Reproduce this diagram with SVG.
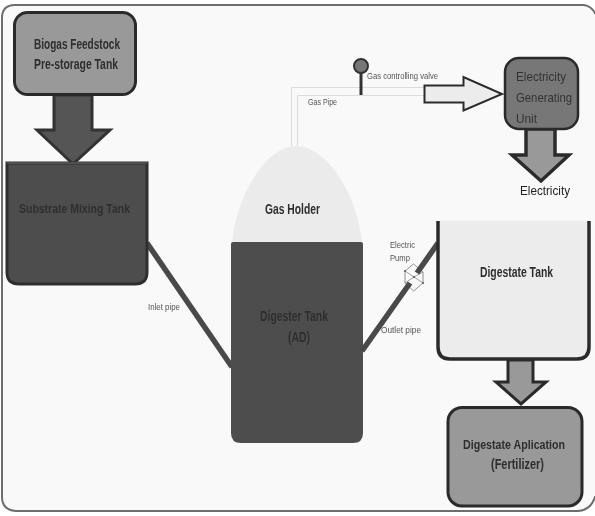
<svg xmlns="http://www.w3.org/2000/svg" width="595" height="516" viewBox="0 0 595 516">
<style>
.b{font-family:"Liberation Sans",Arial,sans-serif;font-weight:bold;font-size:14px;fill:#2e2e2e}
.r{font-family:"Liberation Sans",Arial,sans-serif;font-size:13px;fill:#333}
.s{font-family:"Liberation Sans",Arial,sans-serif;font-size:9.500px;fill:#555}
.pipe{fill:none;stroke:#4a4a4a;stroke-width:5.500}
.gas{fill:none;stroke:#dcdcdc;stroke-width:1}
.v{fill:#555}
</style>
<defs><filter id="soft" x="-2%" y="-2%" width="104%" height="104%"><feGaussianBlur stdDeviation="0.35"/></filter></defs>
<rect width="595" height="516" fill="#fff"/>
<g filter="url(#soft)">
<path id="frame" d="M2 497V18Q2 5 15 5H584Q591 6 595 13V497Q591 510 578 511H16Q2 510 2 497Z" fill="#f9f9f9" stroke="#6e6e6e" stroke-width="2"/>
<path d="M595 14V496" stroke="#f9f9f9" stroke-width="3"/>
<g id="connectors">
<path class="pipe" d="M147 243L232 367"/>
<path class="gas" d="M291.500 146V87.500H425M297.500 146V95.500H425"/>
<path d="M54 95H92V130H110L73 164L37 130H54Z" fill="#555" stroke="#333" stroke-width="3"/>
<path d="M424.500 85.500H463.500V77L502 94L463.500 110.500V102.500H424.500Z" fill="#ececec" stroke="#2c2c2c" stroke-width="2"/>
<path d="M526 129H555V155H569L541 181L512 155H526Z" fill="#999" stroke="#2c2c2c" stroke-width="3.500"/>
<path d="M508 360H533V382H546L521 404L496 382H508Z" fill="#999" stroke="#2c2c2c" stroke-width="3"/>
</g>
<g id="feedstock">
<rect x="14.500" y="12.500" width="121" height="82" rx="13" fill="#999" stroke="#2c2c2c" stroke-width="3"/>
<text class="b" x="34" y="49" textLength="86" lengthAdjust="spacingAndGlyphs">Biogas Feedstock</text>
<text class="b" x="34" y="69" textLength="84" lengthAdjust="spacingAndGlyphs">Pre-storage Tank</text>
</g>
<g id="mixing-tank">
<path d="M7 163H147V272Q147 284 135 284H19Q7 284 7 272Z" fill="#4e4e4e" stroke="#2f2f2f" stroke-width="3"/>
<path d="M7 163H147" stroke="#707070" stroke-width="1"/>
<text class="b" x="19" y="213" textLength="111" lengthAdjust="spacingAndGlyphs" style="font-size:13px">Substrate Mixing Tank</text>
</g>
<g id="gas-holder">
<path d="M232 242C238 190 268 146 296 146C325 146 356 190 362 242Z" fill="#ebebeb"/>
<text class="b" x="265" y="214" textLength="55" lengthAdjust="spacingAndGlyphs">Gas Holder</text>
</g>
<g id="digester">
<path d="M231 244Q231 242 233 242H361Q363 242 363 244V433Q363 443 353 443H241Q231 443 231 433Z" fill="#4e4e4e"/>
<text class="b" x="260" y="321" textLength="68" lengthAdjust="spacingAndGlyphs">Digester Tank</text>
<text class="b" x="288" y="342" textLength="22" lengthAdjust="spacingAndGlyphs">(AD)</text>
</g>
<g id="valve">
<path d="M361 70V95" stroke="#333" stroke-width="3"/>
<circle cx="361" cy="66" r="7" fill="#777" stroke="#333" stroke-width="2"/>
<text class="s" x="367" y="79" textLength="71" lengthAdjust="spacingAndGlyphs">Gas controlling valve</text>
</g>
<text class="s" x="308" y="105" textLength="29" lengthAdjust="spacingAndGlyphs">Gas Pipe</text>
<g id="generator">
<rect x="505" y="58" width="73" height="71" rx="14" fill="#777" stroke="#2c2c2c" stroke-width="2.500"/>
<text class="r" x="516" y="81" textLength="50" lengthAdjust="spacingAndGlyphs">Electricity</text>
<text class="r" x="516" y="102" textLength="56" lengthAdjust="spacingAndGlyphs">Generating</text>
<text class="r" x="516" y="123" textLength="21" lengthAdjust="spacingAndGlyphs">Unit</text>
</g>
<text class="r" x="520" y="195" textLength="50" lengthAdjust="spacingAndGlyphs" style="fill:#222">Electricity</text>
<g id="pump">
<path d="M413.500 264L423 272V283L413.500 291L405 283V271Z" fill="#f9f9f9" stroke="#777" stroke-width="0.800"/>
<path d="M405 271L414 277L423 272M405 283L414 277L423 283" fill="none" stroke="#777" stroke-width="0.700"/>
<path class="pipe" d="M362 351L410 283M417 273L438 243"/>
<circle class="v" cx="414" cy="277" r="1"/><circle class="v" cx="405" cy="271" r="1"/><circle class="v" cx="423" cy="283" r="1"/>
<text class="s" x="390" y="248" textLength="25" lengthAdjust="spacingAndGlyphs">Electric</text>
<text class="s" x="390" y="261" textLength="20" lengthAdjust="spacingAndGlyphs">Pump</text>
</g>
<text class="s" x="381" y="333" textLength="40" lengthAdjust="spacingAndGlyphs">Outlet pipe</text>
<text class="s" x="148" y="310" textLength="32" lengthAdjust="spacingAndGlyphs">Inlet pipe</text>
<g id="digestate-tank">
<path d="M438 221H589V347Q589 359 577 359H450Q438 359 438 347Z" fill="#ececec"/>
<path d="M438 221V347Q438 359 450 359H577Q589 359 589 347V221" fill="none" stroke="#2c2c2c" stroke-width="3.500"/>
<text class="b" x="480" y="277" textLength="73" lengthAdjust="spacingAndGlyphs">Digestate Tank</text>
</g>
<g id="application">
<rect x="448" y="407.500" width="134" height="98.500" rx="14" fill="#999" stroke="#2c2c2c" stroke-width="3"/>
<text class="b" x="463" y="449" textLength="102" lengthAdjust="spacingAndGlyphs" style="font-size:12.500px">Digestate Aplication</text>
<text class="b" x="491" y="469" textLength="53" lengthAdjust="spacingAndGlyphs">(Fertilizer)</text>
</g>
</g>
</svg>
